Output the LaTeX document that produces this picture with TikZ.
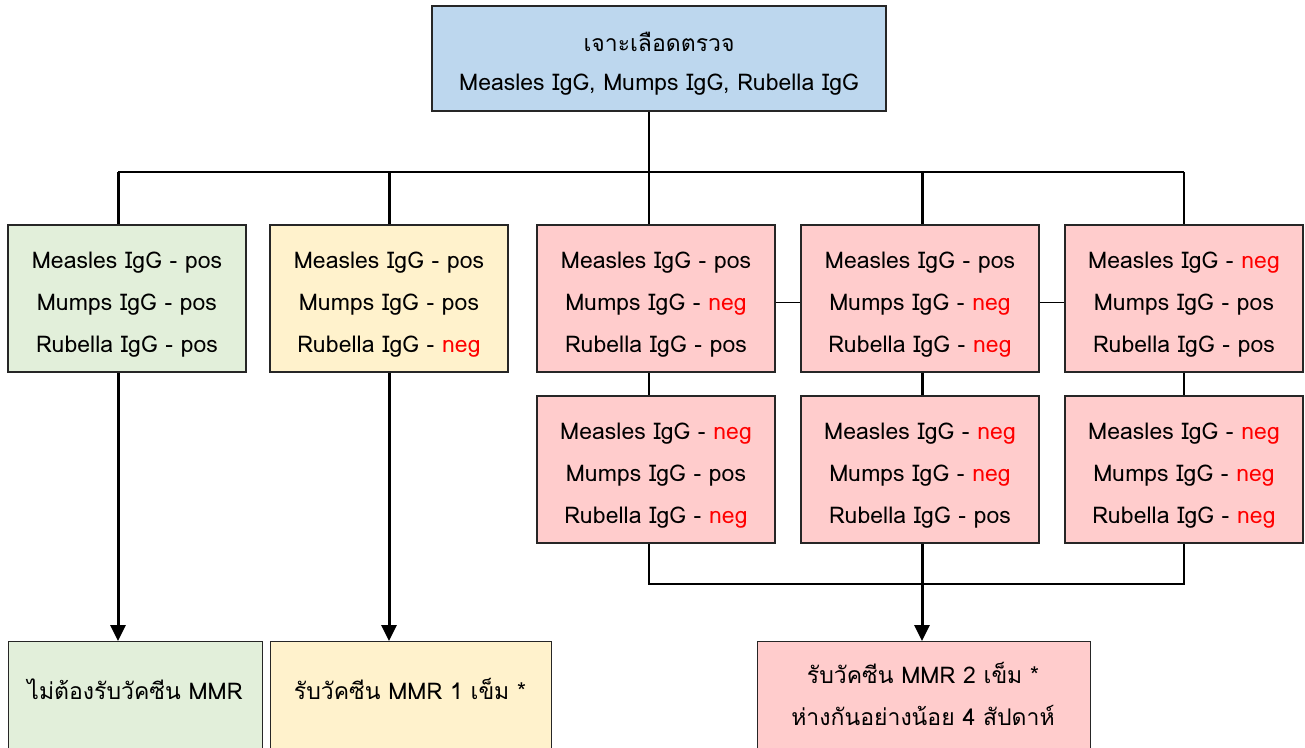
\documentclass[tikz,border=0pt]{standalone}
\usepackage{fontspec}
\newfontfamily\thaifont[Script=Thai]{Loma}
\usetikzlibrary{arrows.meta}
\definecolor{cblue}{HTML}{BDD7EE}
\definecolor{cgreen}{HTML}{E2EFDA}
\definecolor{cyellow}{HTML}{FFF2CC}
\definecolor{cpink}{HTML}{FFCCCC}
\definecolor{cred}{HTML}{FF0000}
\definecolor{cline}{HTML}{262626}
\newcommand\rneg{\textcolor{cred}{neg}}
\newcommand\fl[2][12pt]{\raisebox{0pt}[\dimexpr\height+#1\relax]{#2}}
\begin{document}
\begin{tikzpicture}[x=1pt,y=-1pt,
  box/.style={draw=cline, line width=1.4pt, align=center, inner sep=0pt,
    font=\thaifont\fontsize{23}{42}\selectfont},
  res/.style={box, minimum width=238pt, minimum height=147pt},
  txt/.style={align=center, inner sep=0pt, font=\thaifont\fontsize{23}{42}\selectfont},
  thinline/.style={draw=black, line width=1.4pt},
  heavy/.style={draw=black, line width=3pt},
  arr/.style={heavy, -{Triangle[length=16pt,width=15pt]}}
]
\useasboundingbox (0,0) rectangle (1305,747);
\clip (0,0) rectangle (1305,747);
\fill[white] (0,0) rectangle (1305,747);

% top box
\node[box, fill=cblue, minimum width=454pt, minimum height=105pt,
  font=\thaifont\fontsize{23}{39}\selectfont] (top) at (659,58.5)
  {\fl[10pt]{เจาะเลือดตรวจ}\\Measles IgG, Mumps IgG, Rubella IgG};

% row 1
\node[res, fill=cgreen]  (b1) at (127,298.5) {\fl{Measles IgG - pos}\\Mumps IgG - pos\\Rubella IgG - pos};
\node[res, fill=cyellow] (b2) at (389,298.5) {\fl{Measles IgG - pos}\\Mumps IgG - pos\\Rubella IgG - \rneg};
\node[res, fill=cpink]   (b3) at (656,298.5) {\fl{Measles IgG - pos}\\Mumps IgG - \rneg\\Rubella IgG - pos};
\node[res, fill=cpink]   (b4) at (920,298.5) {\fl{Measles IgG - pos}\\Mumps IgG - \rneg\\Rubella IgG - \rneg};
\node[res, fill=cpink]   (b5) at (1184,298.5) {\fl{Measles IgG - \rneg}\\Mumps IgG - pos\\Rubella IgG - pos};
% row 2
\node[res, fill=cpink]   (c3) at (656,469.5) {\fl{Measles IgG - \rneg}\\Mumps IgG - pos\\Rubella IgG - \rneg};
\node[res, fill=cpink]   (c4) at (920,469.5) {\fl{Measles IgG - \rneg}\\Mumps IgG - \rneg\\Rubella IgG - pos};
\node[res, fill=cpink]   (c5) at (1184,469.5) {\fl{Measles IgG - \rneg}\\Mumps IgG - \rneg\\Rubella IgG - \rneg};

% result boxes
\node[box, fill=cgreen, minimum width=254pt, minimum height=130pt, anchor=north west] (f1) at (8,641) {};
\node[box, fill=cyellow, minimum width=281pt, minimum height=130pt, anchor=north west] (f2) at (270,641) {};
\node[box, fill=cpink, minimum width=333pt, minimum height=130pt, anchor=north west] (f3) at (757,641) {};
\node[txt] (f1t) at (135,689) {ไม่ต้องรับวัคซีน MMR};
\node[txt] (f2t) at (410,689) {รับวัคซีน MMR 1 เข็ม *};
\node[txt] (f3t) at (923,694) {รับวัคซีน MMR 2 เข็ม *\\ห่างกันอย่างน้อย 4 สัปดาห์};

% junctions
\coordinate (h1) at (118,172);
\coordinate (h2) at (389,172);
\coordinate (h3) at (649,172);
\coordinate (h4) at (922,172);
\coordinate (h5) at (1184,172);
\coordinate (m3) at (649,584);
\coordinate (m5) at (1184,584);

\draw[thinline] (top.south -| h3) -- (h3) -- (b3.north -| h3);
\draw[thinline] (h1) -- (h5);
\draw[heavy] (h1) -- (h1 |- b1.north);
\draw[heavy] (h2) -- (h2 |- b2.north);
\draw[heavy] (h4) -- (h4 |- b4.north);
\draw[thinline] (h5) -- (h5 |- b5.north);

\draw[thinline] ([yshift=-4pt]b3.east) -- ([yshift=-4pt]b4.west);
\draw[thinline] ([yshift=-4pt]b4.east) -- ([yshift=-4pt]b5.west);

\draw[thinline] (b3.south -| h3) -- (c3.north -| h3);
\draw[heavy] (b4.south -| h4) -- (c4.north -| h4);
\draw[thinline] (b5.south -| h5) -- (c5.north -| h5);

\draw[thinline] (c3.south -| h3) -- (m3) -- (m5) -- (c5.south -| h5);
\draw[arr] (c4.south -| h4) -- (f3.north -| h4);
\draw[arr] (b1.south -| h1) -- (f1.north -| h1);
\draw[arr] (b2.south -| h2) -- (f2.north -| h2);
\end{tikzpicture}
\end{document}
